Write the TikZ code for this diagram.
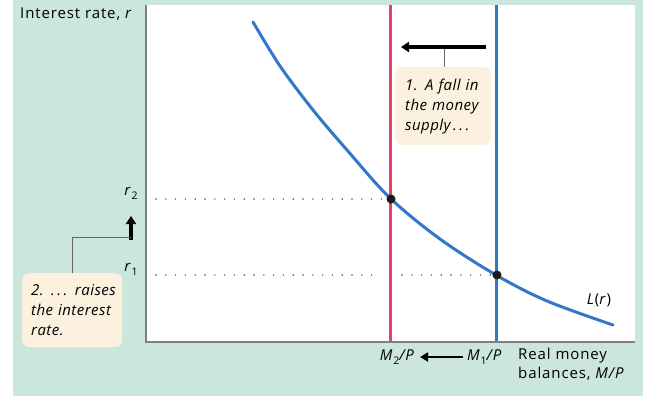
\documentclass[tikz,border=0pt]{standalone}
\usepackage{fontspec}
\setmainfont{Open Sans}[LetterSpace=6]
\newfontfamily\notefont{Open Sans}[LetterSpace=3]
\usetikzlibrary{arrows.meta}
\definecolor{mint}{RGB}{203,230,220}
\definecolor{cream}{RGB}{252,240,222}
\definecolor{axisgray}{RGB}{128,128,128}
\definecolor{redline}{RGB}{232,64,100}
\definecolor{blueline}{RGB}{50,120,200}
\tikzset{
  axisline/.style={axisgray, line width=1.4pt},
  noteline/.style={axisgray!80!black, line width=0.8pt},
  notebox/.style={fill=cream, rounded corners=7pt, align=left, inner ysep=0pt, font=\notefont\fontsize{15}{20}\selectfont\itshape},
  bigarrow/.style={black, line width=3.2pt, -{Triangle[length=8pt,width=10pt]}},
  guide/.style={black!70, line width=1.6pt, dash pattern=on 0pt off 9.8pt, line cap=round},
  lbl/.style={font=\fontsize{15}{18}\selectfont, inner sep=0pt},
  dot/.style={circle, fill=black!90, inner sep=0pt, minimum size=9pt}
}
\newcommand{\sbs}[1]{\raisebox{-0.5ex}{\fontsize{10.5}{10.5}\selectfont #1}}
\begin{document}
\begin{tikzpicture}[x=1pt,y=-1pt]
\useasboundingbox (0,0) rectangle (645,396);
\fill[white] (0,0) rectangle (645,396);
\fill[mint] (13,0) rectangle (643,396);
\fill[white] (146,5) rectangle (635,342);
% curve
\draw[blueline, line width=3pt, line cap=round] plot[smooth, tension=0.55] coordinates
 {(253,22) (280,66) (313,110) (347,150) (390,198) (440,239) (496,275) (547,301) (613,325)};
% vertical lines
\draw[redline, line width=3pt] (390,5) -- (390,342);
\draw[blueline, line width=3pt] (496,5) -- (496,342);
% guides
\coordinate (y2) at (156,199);
\coordinate (y1) at (156,275);
\node[dot] (e2) at (391,199) {};
\node[dot] (e1) at (497,275) {};
\draw[guide] (y2) -- (e2.west);
\draw[guide] (y1) -- (380,275);
\draw[guide] (402,275) -- (e1.west);
% axes
\draw[axisline] (146,5) -- (146,342) -- (635,342);
% axis labels
\node[lbl, anchor=west] (ylab) at (20,14) {Interest rate, \textit{r}};
\node[lbl] (r2) at (131,193) {\textit{r}\sbs{2}};
\node[lbl] (r1) at (131,269) {\textit{r}\sbs{1}};
\draw[bigarrow] (131,240) -- (131,216);
\coordinate (rarr) at (131,237);
\node[lbl] (Lr) at (599,300) {\textit{L}(\textit{r})};
% note 1
\node[notebox, anchor=north west, inner xsep=10pt, text width=76pt, minimum height=78pt] (n1) at (395,67) {1. A fall in\\the money\\supply\,.\,.\,.};
\draw[noteline] (444,47) -- (n1.north -| 444,0);
\draw[bigarrow] (486,47) -- (401,47);
% note 2
\node[notebox, anchor=north west, inner xsep=9pt, text width=82pt, minimum height=74pt] (n2) at (22,273) {\mbox{2. .\,.\,. raises}\\the interest\\rate.};
\draw[noteline] (n2.north -| 72,0) -- (72,237) -- (rarr);
% bottom labels
\node[lbl, anchor=east] (m2) at (415,357) {\textit{M}\sbs{2}\textit{/P}};
\node[lbl, anchor=west] (m1) at (467,357) {\textit{M}\sbs{1}\textit{/P}};
\draw[black, line width=2.8pt, -{Triangle[length=8pt,width=9pt]}] ([xshift=-4pt]m1.west) -- ([xshift=5pt]m2.east);
\node[lbl, anchor=north west, align=left, font=\fontsize{15}{19}\selectfont] (rm) at (518,348) {Real money\\balances, \textit{M/P}};
\end{tikzpicture}
\end{document}
